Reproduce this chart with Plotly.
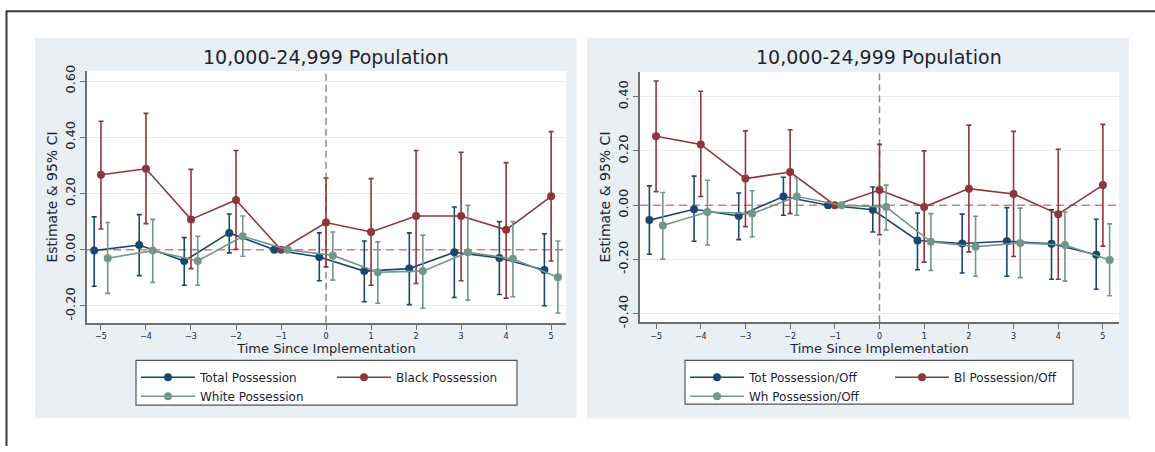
import plotly.graph_objects as go

W, H = 1155, 452

t = [-5, -4, -3, -2, -1, 0, 1, 2, 3, 4, 5]
xticks = [-5, -4, -3, -2, -1, 0, 1, 2, 3, 4, 5]

title_txt = "10,000-24,999 Population"
ytitle = "Estimate & 95% CI"
xtitle = "Time Since Implementation"

# Left panel
L_names = ["Total Possession", "Black Possession", "White Possession"]
L_tot_est = [-0.003, 0.017, -0.040, 0.060, 0.0, -0.026, -0.076, -0.067, -0.009, -0.029, -0.072]
L_tot_lo = [-0.130, -0.092, -0.126, -0.011, 0.0, -0.110, -0.185, -0.195, -0.170, -0.159, -0.199]
L_tot_hi = [0.117, 0.125, 0.043, 0.127, 0.0, 0.060, 0.031, 0.060, 0.152, 0.100, 0.057]
L_blk_est = [0.267, 0.288, 0.108, 0.177, 0.0, 0.097, 0.063, 0.120, 0.120, 0.071, 0.190]
L_blk_lo = [0.074, 0.093, -0.067, 0.002, 0.0, -0.061, -0.126, -0.120, -0.110, -0.172, -0.040]
L_blk_hi = [0.457, 0.485, 0.286, 0.353, 0.0, 0.255, 0.253, 0.353, 0.347, 0.310, 0.420]
L_wht_est = [-0.030, -0.003, -0.040, 0.048, 0.0, -0.020, -0.080, -0.076, -0.009, -0.032, -0.098]
L_wht_lo = [-0.155, -0.116, -0.126, -0.023, 0.0, -0.108, -0.190, -0.208, -0.179, -0.167, -0.225]
L_wht_hi = [0.097, 0.108, 0.048, 0.120, 0.0, 0.063, 0.028, 0.052, 0.158, 0.100, 0.031]
L_yticks = [-0.2, 0.0, 0.2, 0.4, 0.6]
L_ylabels = ["-0.20", "0.00", "0.20", "0.40", "0.60"]

# Right panel
R_names = ["Tot Possession/Off", "Bl Possession/Off", "Wh Possession/Off"]
R_tot_est = [-0.055, -0.015, -0.040, 0.032, 0.0, -0.017, -0.130, -0.141, -0.133, -0.142, -0.183]
R_tot_lo = [-0.181, -0.133, -0.127, -0.037, 0.0, -0.099, -0.238, -0.250, -0.262, -0.273, -0.310]
R_tot_hi = [0.071, 0.107, 0.045, 0.103, 0.0, 0.067, -0.029, -0.033, -0.009, -0.017, -0.052]
R_blk_est = [0.254, 0.224, 0.098, 0.122, 0.0, 0.056, -0.007, 0.061, 0.041, -0.033, 0.074]
R_blk_lo = [0.050, 0.032, -0.079, -0.031, 0.0, -0.109, -0.210, -0.172, -0.189, -0.273, -0.151]
R_blk_hi = [0.458, 0.420, 0.274, 0.278, 0.0, 0.224, 0.200, 0.295, 0.272, 0.206, 0.298]
R_wht_est = [-0.075, -0.025, -0.031, 0.032, 0.0, -0.007, -0.135, -0.153, -0.139, -0.147, -0.202]
R_wht_lo = [-0.199, -0.147, -0.117, -0.037, 0.0, -0.091, -0.241, -0.262, -0.267, -0.280, -0.334]
R_wht_hi = [0.047, 0.092, 0.053, 0.100, 0.0, 0.074, -0.031, -0.041, -0.011, -0.025, -0.069]
R_yticks = [-0.4, -0.2, 0.0, 0.2, 0.4]
R_ylabels = ["-0.40", "-0.20", "0.00", "0.20", "0.40"]

NAVY = "#1a476f"
MAROON = "#90353b"
GREEN = "#72968a"
TXT = "#1c2533"
PANEL = "#e9eff3"
FONT = "DejaVu Sans"

L_range = [-5.31, 5.33]
R_range = [-5.36, 5.36]
L_yrange = [-0.26, 0.635]
R_yrange = [-0.432, 0.492]


def px(x):
    return x / W


def py(y):
    return 1 - y / H


fig = go.Figure()

offsets = [-0.15, 0.0, 0.15]
colors = [NAVY, MAROON, GREEN]


def add_panel(names, series, xa, ya, legs):
    for i, (est, lo, hi) in enumerate(series):
        xs = [v + offsets[i] for v in t]
        up = [h - e for h, e in zip(hi, est)]
        dn = [e - l for e, l in zip(est, lo)]
        fig.add_trace(go.Scatter(
            x=xs, y=est, name=names[i], mode="lines+markers",
            line=dict(color=colors[i], width=1.6),
            marker=dict(color=colors[i], size=8),
            error_y=dict(type="data", array=up, arrayminus=dn, color=colors[i],
                         thickness=1.6, width=2.5, symmetric=False),
            xaxis=xa, yaxis=ya, legend=legs[i], showlegend=True,
        ))


add_panel(L_names, [(L_tot_est, L_tot_lo, L_tot_hi), (L_blk_est, L_blk_lo, L_blk_hi),
                    (L_wht_est, L_wht_lo, L_wht_hi)], "x", "y", ["legend", "legend2", "legend"])
add_panel(R_names, [(R_tot_est, R_tot_lo, R_tot_hi), (R_blk_est, R_blk_lo, R_blk_hi),
                    (R_wht_est, R_wht_lo, R_wht_hi)], "x2", "y2", ["legend3", "legend4", "legend3"])

# Plot area geometry (pixels)
L_box = (87, 566, 67, 325.5)
R_box = (640, 1119, 67.5, 325)

axis_common = dict(showline=True, linecolor="#707070", linewidth=1.5, ticks="outside",
                   tickcolor="#707070", ticklen=5, tickwidth=1.2, zeroline=False)

fig.update_layout(
    xaxis=dict(domain=[px(L_box[0]), px(L_box[1])], range=L_range, tickvals=xticks,
               tickfont=dict(size=8, color=TXT, family=FONT), showgrid=False,
               title=dict(text=xtitle, font=dict(size=13, color=TXT, family=FONT), standoff=2),
               anchor="y", **axis_common),
    yaxis=dict(domain=[py(L_box[3]), py(L_box[2])], range=L_yrange, tickvals=L_yticks,
               ticktext=L_ylabels, tickangle=-90, tickfont=dict(size=13, color=TXT, family=FONT),
               showgrid=True, gridcolor="#ececec", gridwidth=1,
               title=dict(text=ytitle, font=dict(size=14, color=TXT, family=FONT), standoff=2),
               anchor="x", **axis_common),
    xaxis2=dict(domain=[px(R_box[0]), px(R_box[1])], range=R_range, tickvals=xticks,
                tickfont=dict(size=8, color=TXT, family=FONT), showgrid=False,
                title=dict(text=xtitle, font=dict(size=13, color=TXT, family=FONT), standoff=2),
                anchor="y2", **axis_common),
    yaxis2=dict(domain=[py(R_box[3]), py(R_box[2])], range=R_yrange, tickvals=R_yticks,
                ticktext=R_ylabels, tickangle=-90, tickfont=dict(size=13, color=TXT, family=FONT),
                showgrid=True, gridcolor="#ececec", gridwidth=1,
                title=dict(text=ytitle, font=dict(size=14, color=TXT, family=FONT), standoff=2),
                anchor="x2", **axis_common),
    width=W, height=H, margin=dict(l=0, r=0, t=0, b=0),
    paper_bgcolor="white", plot_bgcolor="white",
    font=dict(family=FONT, color=TXT, size=12),
)

leg_common = dict(orientation="v", xanchor="left", yanchor="top", bgcolor="rgba(0,0,0,0)",
                  borderwidth=0, font=dict(size=12, color=TXT, family=FONT), itemwidth=54,
                  tracegroupgap=0, itemclick=False, itemdoubleclick=False)
fig.update_layout(
    legend=dict(x=px(136), y=py(366.5), **leg_common),
    legend2=dict(x=px(332), y=py(366.5), **leg_common),
    legend3=dict(x=px(685), y=py(366.5), **leg_common),
    legend4=dict(x=px(890), y=py(366.5), **leg_common),
)

shapes = []
# outer border (top and left)
shapes.append(dict(type="line", xref="paper", yref="paper", x0=px(6), x1=1, y0=py(5.5), y1=py(5.5),
                   line=dict(color="#3a3a3a", width=2), layer="below"))
shapes.append(dict(type="line", xref="paper", yref="paper", x0=px(6.5), x1=px(6.5), y0=py(5), y1=0,
                   line=dict(color="#3a3a3a", width=2), layer="below"))
# panel backgrounds
for (x0, x1, y0, y1) in [(35, 576.5, 33, 423.5), (587, 1129, 33, 424)]:
    shapes.append(dict(type="rect", xref="paper", yref="paper", x0=px(x0), x1=px(x1),
                       y0=py(y1), y1=py(y0), fillcolor=PANEL, line=dict(width=0), layer="below"))
# legend boxes
for (x0, x1, y0, y1) in [(136, 517, 364, 410), (685, 1073, 364, 409)]:
    shapes.append(dict(type="rect", xref="paper", yref="paper", x0=px(x0), x1=px(x1),
                       y0=py(y1), y1=py(y0), fillcolor="white", line=dict(color="#555555", width=1.2),
                       layer="below"))
# plot areas white
for box in [L_box, R_box]:
    shapes.append(dict(type="rect", xref="paper", yref="paper",
                       x0=px(box[0]), x1=px(box[1]), y0=py(box[3]), y1=py(box[2]),
                       fillcolor="white", line=dict(width=0), layer="below"))
# reference lines
for xa, ya, xr, yr in [("x", "y", L_range, L_yrange), ("x2", "y2", R_range, R_yrange)]:
    shapes.append(dict(type="line", xref=xa, yref=ya, x0=xr[0], x1=xr[1], y0=0, y1=0,
                       line=dict(color="#d9797e", width=1.6, dash="8px,5px"), layer="between"))
    shapes.append(dict(type="line", xref=xa, yref=ya, x0=0, x1=0, y0=yr[0], y1=yr[1],
                       line=dict(color="#8a8a8a", width=1.5, dash="7px,4px"), layer="between"))
fig.update_layout(shapes=shapes)

# Titles
for cx in [326, 879]:
    fig.add_annotation(text=title_txt, x=px(cx), y=py(52), xref="paper", yref="paper",
                       showarrow=False, xanchor="center", yanchor="middle",
                       font=dict(size=19, color=TXT, family=FONT))

fig.write_html("out.html", config={"displayModeBar": False},
               post_script="document.body.style.margin='0';document.body.style.padding='0';"
                           "document.documentElement.style.overflow='hidden';")
